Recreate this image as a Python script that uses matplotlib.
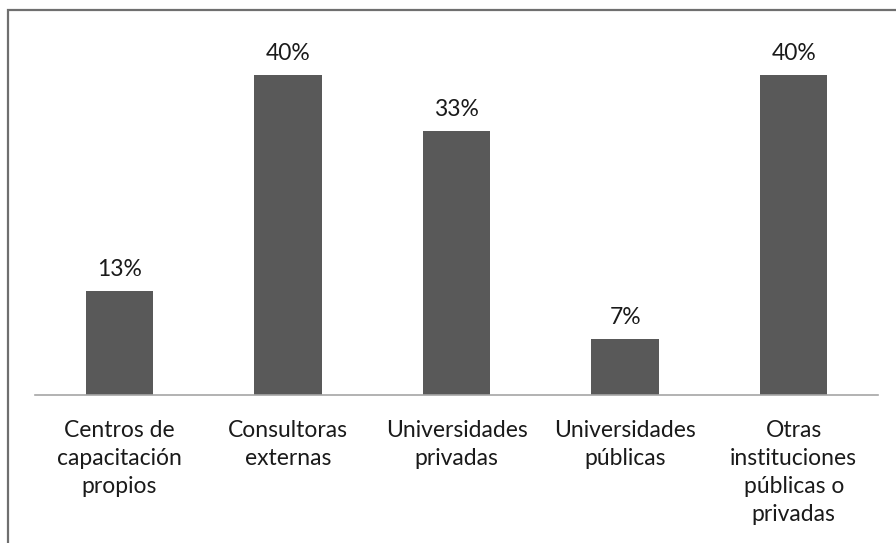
import matplotlib.pyplot as plt
from matplotlib.patches import Rectangle

categorias = ["Centros de\ncapacitación\npropios", "Consultoras\nexternas",
              "Universidades\nprivadas", "Universidades\npúblicas",
              "Otras\ninstituciones\npúblicas o\nprivadas"]
porcentajes = [13, 40, 33, 7, 40]
etiquetas = ["13%", "40%", "33%", "7%", "40%"]

plt.rcParams['font.family'] = ['Lato', 'DejaVu Sans']

fig = plt.figure(figsize=(8.96, 5.43), dpi=100)
# marco exterior (cortado a la derecha y abajo)
fig.patches.append(Rectangle((8/896, -0.05), 1.1, 1 - 10/543 + 0.05,
                             transform=fig.transFigure, fill=False,
                             edgecolor='#6f6f6f', linewidth=1.6))

ax = fig.add_axes([35/896, 1 - 395/543, 843/896, 384/543])
x = range(len(categorias))
ax.bar(x, porcentajes, width=0.4, color='#595959')
ax.set_xlim(-0.5, 4.5)
ax.set_ylim(0, 48)

for xi, v, t in zip(x, porcentajes, etiquetas):
    ax.annotate(t, (xi, v), xytext=(0, 8), textcoords='offset points',
                ha='center', va='bottom', fontsize=16.5, color='#1a1a1a')

ax.set_xticks(list(x))
ax.set_xticklabels(categorias, fontsize=16.5, color='#1a1a1a')
for lab in ax.get_xticklabels():
    lab.set_linespacing(1.42)
ax.tick_params(axis='x', length=0, pad=18)
ax.set_yticks([])
for s in ['top', 'right', 'left']:
    ax.spines[s].set_visible(False)
ax.spines['bottom'].set_color('#a6a6a6')
ax.spines['bottom'].set_linewidth(1.2)

fig.savefig('out.png', dpi=100)
